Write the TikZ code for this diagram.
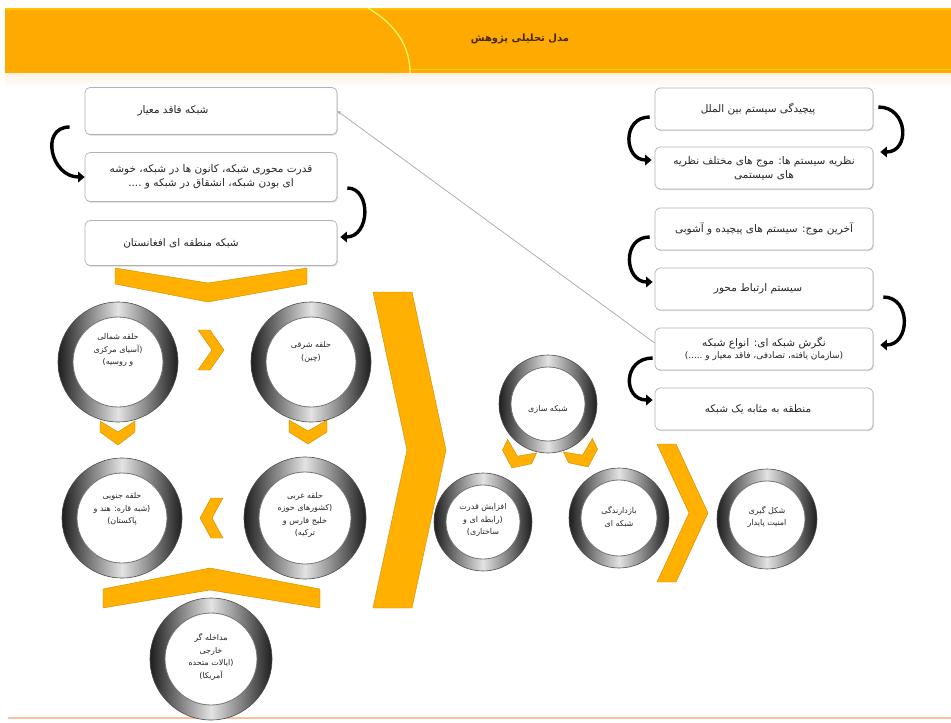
\documentclass[tikz,border=0pt]{standalone}
\usepackage{fontspec}
\usetikzlibrary{arrows.meta,shadows}
\newfontfamily\fa[Script=Arabic]{DejaVu Sans}
\TeXXeTstate=1
\newcommand\rl[1]{\beginR #1\endR}
\definecolor{orng}{RGB}{255,170,0}
\definecolor{chevfill}{RGB}{255,176,0}
\definecolor{titlebrown}{RGB}{70,40,0}
\definecolor{footline}{RGB}{250,190,160}
% ring with a metallic band: outer shaded disc, inner white disc, text set slightly off centre
\newcommand\ringat[6]{%
  \node[ring,minimum size=#3] (#1) at (#2) {};
  \node[ringin,minimum size=#4] (#1in) at (#1) {};
  \node[ringtxt] (#1t) at ([shift={(0,#5)}]#1) {#6};}
\begin{document}
\begin{tikzpicture}[x=1pt,y=-1pt,
  box/.style={draw=gray!60, line width=0.7pt, rounded corners=5pt, fill=white,
    align=center, inner sep=2pt, font=\fa\fontsize{10.5}{14}\selectfont, text=black!85,
    drop shadow={shadow xshift=0.8pt, shadow yshift=-1.2pt, opacity=0.3, fill=gray}},
  lbox/.style={box, minimum width=252pt},
  rbox/.style={box, minimum width=218pt, minimum height=42pt},
  curv/.style={line width=3.4pt, black, -{Triangle[length=6.5pt,width=10.5pt]}},
  thinarr/.style={gray!70, line width=0.7pt, -{Stealth[length=4pt,width=3.5pt]}},
  chev/.style={fill=chevfill, draw=orng!80!black, line width=0.4pt},
  ring/.style={circle, inner sep=0pt, draw=black!70, line width=0.6pt,
    left color=black!88, right color=black!88, middle color=gray!22},
  ringin/.style={circle, inner sep=0pt, fill=white, draw=black!55, line width=0.8pt},
  ringtxt/.style={inner sep=0pt, align=center, font=\fa\fontsize{8}{12.5}\selectfont, text=black!85}]
\useasboundingbox (0,0) rectangle (951,723);

% ---------- header band ----------
\fill[orng] (5,8) rectangle (951,73);
\fill[orng!70!yellow] (5,8) rectangle (951,10);
\draw[yellow!55!orng, line width=1pt] (410,69) -- (951,69);
\shade[top color=orange!12, bottom color=white] (5,73) rectangle (951,88);
\draw[yellow!60, line width=1.3pt] (368,8) .. controls (398,26) and (410,48) .. (410,73);
\node[font=\fa\bfseries\fontsize{10}{12}\selectfont, text=titlebrown] (title) at (520,39) {\rl{مدل تحلیلی پژوهش}};

% ---------- footer line ----------
\draw[footline, line width=1.5pt] (8,718) -- (951,718);

% ---------- left column of boxes ----------
\node[lbox, minimum height=47pt] (A) at (211,111) {\rl{شبکه فاقد معیار}\hspace*{76pt}};
\node[lbox, minimum height=49pt] (B) at (211,177) {\rl{قدرت محوری شبکه، کانون ها در شبکه، خوشه}\\\rl{ای بودن شبکه، انشقاق در شبکه و ....}};
\node[lbox, minimum height=45pt] (C) at (211,243) {\rl{شبکه منطقه ای افغانستان}\hspace*{60pt}};

% ---------- right column of boxes ----------
\node[rbox] (R1) at (764,109) {\rl{پیچیدگی سیستم بین الملل}\hspace*{12pt}};
\node[rbox] (R2) at (764,168) {\rl{نظریه سیستم ها: موج های مختلف نظریه}\\\rl{های سیستمی}};
\node[rbox] (R3) at (764,229) {\rl{آخرین موج: سیستم های پیچیده و آشوبی}};
\node[rbox] (R4) at (764,289) {\rl{سیستم ارتباط محور}\hspace*{12pt}};
\node[rbox] (R5) at (764,349) {\rl{نگرش شبکه ای: انواع شبکه}\\[-2pt]{\fontsize{9}{11}\selectfont\rl{(سازمان یافته، تصادفی، فاقد معیار و .....)}}};
\node[rbox] (R6) at (764,409) {\rl{منطقه به مثابه یک شبکه}\hspace*{12pt}};

% ---------- curved arrows between boxes ----------
\draw[curv] ([shift={(-15,16)}]A.west) .. controls +(-30,0) and +(-34,0) .. (B.west);
\draw[curv] ([shift={(10,11)}]B.east) .. controls +(24,0) and +(30,0) .. ([shift={(3,-6)}]C.east);
\draw[curv] ([shift={(5,-2)}]R1.east) .. controls +(30,0) and +(30,0) .. ([shift={(7,-16)}]R2.east);
\draw[curv] ([shift={(-5,8)}]R1.west) .. controls +(-28,0) and +(-28,0) .. ([shift={(-3,-8)}]R2.west);
\draw[curv] ([shift={(-5,8)}]R3.west) .. controls +(-28,0) and +(-28,0) .. ([shift={(-2,-7)}]R4.west);
\draw[curv] ([shift={(10,8)}]R4.east) .. controls +(28,0) and +(30,0) .. ([shift={(7,-4)}]R5.east);
\draw[curv] ([shift={(-2,9)}]R5.west) .. controls +(-30,0) and +(-30,0) .. ([shift={(-2,-9)}]R6.west);

% ---------- orange chevrons ----------
\draw[chev] (115,268) -- (208,283) -- (307,268) -- (307,284) -- (208,302) -- (115,284) -- cycle;
\draw[chev] (198,330) -- (210,330) -- (224,350) -- (210,370) -- (198,370) -- (212,350) -- cycle;
\draw[chev] (100,421) -- (118,432) -- (135,421) -- (135,432) -- (118,445) -- (100,432) -- cycle;
\draw[chev] (289,420) -- (308,431) -- (327,420) -- (327,432) -- (308,444) -- (289,432) -- cycle;
\draw[chev] (223,498) -- (211,498) -- (200,518) -- (211,538) -- (223,538) -- (212,518) -- cycle;
\draw[chev] (103,589) -- (210,568) -- (320,589) -- (320,608) -- (210,590) -- (103,608) -- cycle;
\draw[chev] (373,292) -- (412,292) -- (446,450) -- (412,608) -- (373,608) -- (407,450) -- cycle;
\draw[chev] (507.6,439.4) -- (517.4,456.1) -- (536.6,452.9) -- (531.5,463.8) -- (511.9,467.9) -- (502.5,450.2) -- cycle;
\draw[chev] (563.4,451.9) -- (582.6,455.1) -- (592.4,438.4) -- (597.5,449.2) -- (588.1,466.9) -- (568.5,462.8) -- cycle;
\draw[chev] (657,444) -- (676,444) -- (708,513) -- (676,582) -- (657,582) -- (689,513) -- cycle;

% ---------- rings ----------
\ringat{c1}{118,362}{120pt}{90pt}{-12}{\rl{حلقه شمالی}\\\rl{(آسیای مرکزی}\\\rl{و روسیه)}}
\ringat{c2}{311,362}{120pt}{90pt}{-10}{\rl{حلقه شرقی}\\\rl{(چین)}}
\ringat{c3}{122,518}{120pt}{90pt}{-9}{\rl{حلقه جنوبی}\\\rl{(شبه قاره: هند و}\\\rl{پاکستان)}}
\ringat{c4}{305,518}{122pt}{92pt}{-3}{\rl{حلقه غربی}\\\rl{(کشورهای حوزه}\\\rl{خلیج فارس و}\\\rl{ترکیه)}}
\ringat{c5}{211,659}{122pt}{92pt}{-2}{\rl{مداخله گر}\\\rl{خارجی}\\\rl{(ایالات متحده}\\\rl{آمریکا)}}
\ringat{c6}{548,404}{98pt}{74pt}{5}{\rl{شبکه سازی}}
\ringat{c7}{483,522}{98pt}{74pt}{-2}{\rl{افزایش قدرت}\\\rl{(رابطه ای و}\\\rl{ساختاری)}}
\ringat{c8}{619,518}{100pt}{76pt}{-1}{\rl{بازدارندگی}\\\rl{شبکه ای}}
\ringat{c9}{767,519}{100pt}{76pt}{-2}{\rl{شکل گیری}\\\rl{امنیت پایدار}}

% ---------- link from the network view back to the scale-free network ----------
\draw[thinarr] ([shift={(0,-6)}]R5.west) -- (A.east);
\end{tikzpicture}
\end{document}
